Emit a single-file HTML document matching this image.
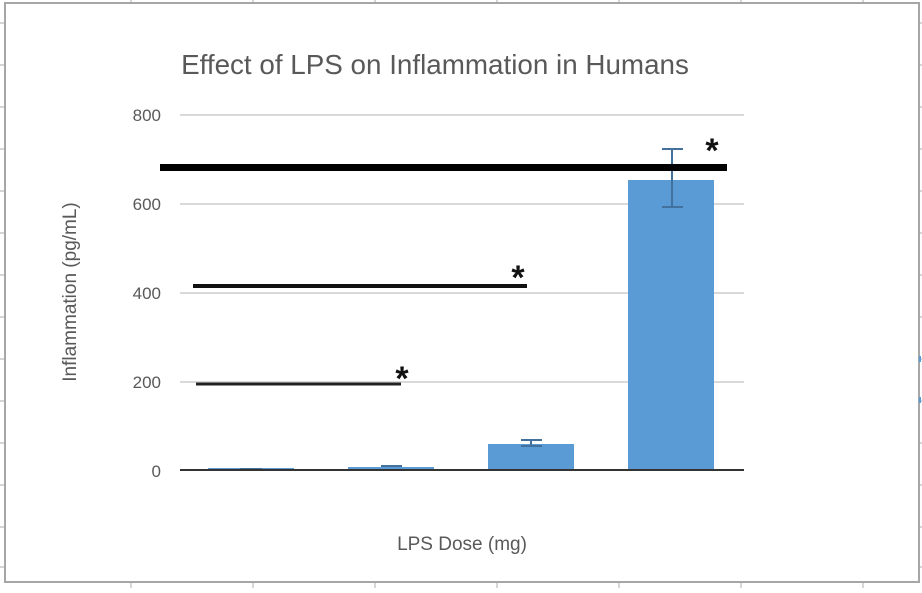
<!DOCTYPE html>
<html><head><style>body{margin:0;background:#fff}</style></head><body>
<svg width="922" height="588" xmlns="http://www.w3.org/2000/svg" font-family="Liberation Sans, Arial, sans-serif">
<g stroke="#d6d6d6" stroke-width="2">
<line x1="131" y1="0" x2="131" y2="588"/><line x1="253" y1="0" x2="253" y2="588"/><line x1="375" y1="0" x2="375" y2="588"/><line x1="497" y1="0" x2="497" y2="588"/><line x1="619" y1="0" x2="619" y2="588"/><line x1="741" y1="0" x2="741" y2="588"/><line x1="863" y1="0" x2="863" y2="588"/>
<line x1="0" y1="23" x2="922" y2="23"/><line x1="0" y1="65" x2="922" y2="65"/><line x1="0" y1="107" x2="922" y2="107"/><line x1="0" y1="149" x2="922" y2="149"/><line x1="0" y1="191" x2="922" y2="191"/><line x1="0" y1="233" x2="922" y2="233"/><line x1="0" y1="275" x2="922" y2="275"/><line x1="0" y1="317" x2="922" y2="317"/><line x1="0" y1="359" x2="922" y2="359"/><line x1="0" y1="401" x2="922" y2="401"/><line x1="0" y1="443" x2="922" y2="443"/><line x1="0" y1="485" x2="922" y2="485"/><line x1="0" y1="527" x2="922" y2="527"/><line x1="0" y1="567" x2="922" y2="567"/>
</g>
<rect x="5" y="3" width="914" height="579" fill="#fff" stroke="#a6a6a6" stroke-width="2"/>
<line x1="920" y1="356" x2="920" y2="362" stroke="#5b9bd5" stroke-width="2"/>
<line x1="920" y1="397" x2="920" y2="403" stroke="#5b9bd5" stroke-width="2"/>
<text x="435" y="74" font-size="27.8" fill="#595959" text-anchor="middle">Effect of LPS on Inflammation in Humans</text>
<g stroke="#d9d9d9" stroke-width="2">
<line x1="180" y1="115" x2="744" y2="115"/><line x1="180" y1="204" x2="744" y2="204"/><line x1="180" y1="293" x2="744" y2="293"/><line x1="180" y1="382" x2="744" y2="382"/>
</g>
<g font-size="17" fill="#595959" text-anchor="end">
<text x="161" y="121">800</text><text x="161" y="210">600</text><text x="161" y="299">400</text><text x="161" y="388">200</text><text x="161" y="477">0</text>
</g>
<text transform="translate(76,292) rotate(-90)" font-size="19" fill="#595959" text-anchor="middle">Inflammation (pg/mL)</text>
<text x="462" y="550" font-size="19" fill="#595959" text-anchor="middle">LPS Dose (mg)</text>
<g fill="#5b9bd5">
<rect x="208" y="468" width="86" height="2"/>
<rect x="348" y="467" width="86" height="3"/>
<rect x="488" y="444" width="86" height="26"/>
<rect x="628" y="180" width="86" height="290"/>
</g>
<g stroke="#41719c" stroke-width="2">
<line x1="240" y1="469" x2="262" y2="469"/>
<line x1="381" y1="466" x2="402" y2="466"/>
<line x1="531" y1="440" x2="531" y2="446"/><line x1="521" y1="440" x2="542" y2="440"/><line x1="521" y1="446" x2="542" y2="446"/>
<line x1="672" y1="149" x2="672" y2="207"/><line x1="662" y1="149" x2="683" y2="149"/><line x1="662" y1="207" x2="683" y2="207"/>
</g>
<line x1="180" y1="470" x2="744" y2="470" stroke="#333" stroke-width="2"/>
<line x1="160" y1="167.5" x2="727" y2="167.5" stroke="#000" stroke-width="7"/>
<line x1="193" y1="286" x2="527" y2="286" stroke="#111" stroke-width="4"/>
<line x1="196" y1="384" x2="401" y2="384" stroke="#222" stroke-width="3"/>
<g font-size="34" fill="#111" text-anchor="middle" font-weight="bold">
<text x="712" y="162">*</text><text x="518" y="289">*</text><text x="402" y="390">*</text>
</g>
</svg>
</body></html>
